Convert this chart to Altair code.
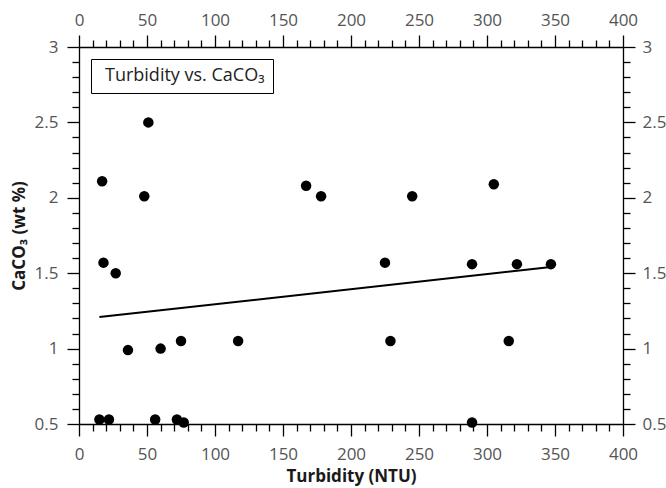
import altair as alt
import pandas as pd

turbidity = [15, 22, 17, 18, 27, 36, 48, 51, 56, 60, 72, 75, 77, 117, 167, 178,
             225, 229, 245, 289, 289, 305, 316, 322, 347]
caco3 = [0.53, 0.53, 2.11, 1.57, 1.50, 0.99, 2.01, 2.50, 0.53, 1.00, 0.53, 1.05,
         0.51, 1.05, 2.08, 2.01, 1.57, 1.05, 2.01, 1.56, 0.51, 2.09, 1.05, 1.56, 1.56]
series_name = "Turbidity vs. CaCO₃"

x_major_ticks = [0, 50, 100, 150, 200, 250, 300, 350, 400]
x_minor_ticks = [v for v in range(0, 401, 10) if v % 50 != 0]
y_major_ticks = [0.5, 1, 1.5, 2, 2.5, 3]
y_minor_ticks = [round(0.5 + 0.1 * i, 1) for i in range(26) if i % 5 != 0]

df = pd.DataFrame({"turbidity": turbidity, "caco3": caco3,
                   "series": [series_name] * len(turbidity)})

FONT = "Open Sans"
LBL = 17


def axis(orient, values, major, fmt="d", title=None, pad=8, title_pad=6):
    kw = dict(
        orient=orient, values=values, grid=False,
        tickSize=12 if major else 7, tickColor="black", tickWidth=1.3,
        domain=major, domainColor="black", domainWidth=1.3,
        labels=major, title=title if title else "",
    )
    if major:
        kw.update(format=fmt, labelColor="#555555", labelFontSize=LBL, labelFont=FONT,
                  labelOverlap=False, labelFlush=False, labelPadding=pad)
    if title:
        kw.update(titleFont=FONT, titleFontWeight="bold", titleFontSize=17,
                  titleColor="#1a1a1a", titlePadding=title_pad)
    return alt.Axis(**kw)


xscale = alt.Scale(domain=[0, 400], nice=False)
yscale = alt.Scale(domain=[0.5, 3], nice=False, zero=False)

base = alt.Chart(df)

points = base.mark_circle(size=110, opacity=1, color="black").encode(
    x=alt.X("turbidity:Q", scale=xscale,
            axis=axis("bottom", x_major_ticks, True, "d", "Turbidity (NTU)", pad=10, title_pad=6)),
    y=alt.Y("caco3:Q", scale=yscale,
            axis=axis("left", y_major_ticks, True, ".1~f", "CaCO₃ (wt %)", pad=9, title_pad=6)),
)

line = base.transform_regression("turbidity", "caco3").mark_line(
    color="black", strokeWidth=2
).encode(
    x=alt.X("turbidity:Q", scale=xscale, axis=axis("top", x_major_ticks, True, "d", pad=6)),
    y=alt.Y("caco3:Q", scale=yscale, axis=axis("right", y_major_ticks, True, ".1~f", pad=7)),
)

minor_a = base.mark_point(opacity=0, size=1).encode(
    x=alt.X("turbidity:Q", scale=xscale, axis=axis("bottom", x_minor_ticks, False)),
    y=alt.Y("caco3:Q", scale=yscale, axis=axis("left", y_minor_ticks, False)),
    color=alt.Color("series:N", scale=alt.Scale(range=["black"]),
                    legend=alt.Legend(title=None, orient="top-left", offset=12,
                                      strokeColor="black", fillColor="white", padding=8,
                                      symbolSize=1, symbolOpacity=0,
                                      labelOffset={"expr": "-12"},
                                      labelFont=FONT, labelFontSize=18, labelColor="#222222",
                                      labelExpr="datum.label + '    '",
                                      labelLimit=400)),
)

minor_b = base.mark_point(opacity=0).encode(
    x=alt.X("turbidity:Q", scale=xscale, axis=axis("top", x_minor_ticks, False)),
    y=alt.Y("caco3:Q", scale=yscale, axis=axis("right", y_minor_ticks, False)),
)

chart = alt.layer(minor_a, minor_b, line, points).resolve_axis(
    x="independent", y="independent"
).properties(
    width=544, height=377,
    autosize=alt.AutoSizeParams(type="none"),
    padding={"left": 79, "top": 47, "right": 43, "bottom": 64},
    background="white",
).configure_view(stroke="transparent")

chart.save("out.html", embed_options={"renderer": "svg", "actions": False})
